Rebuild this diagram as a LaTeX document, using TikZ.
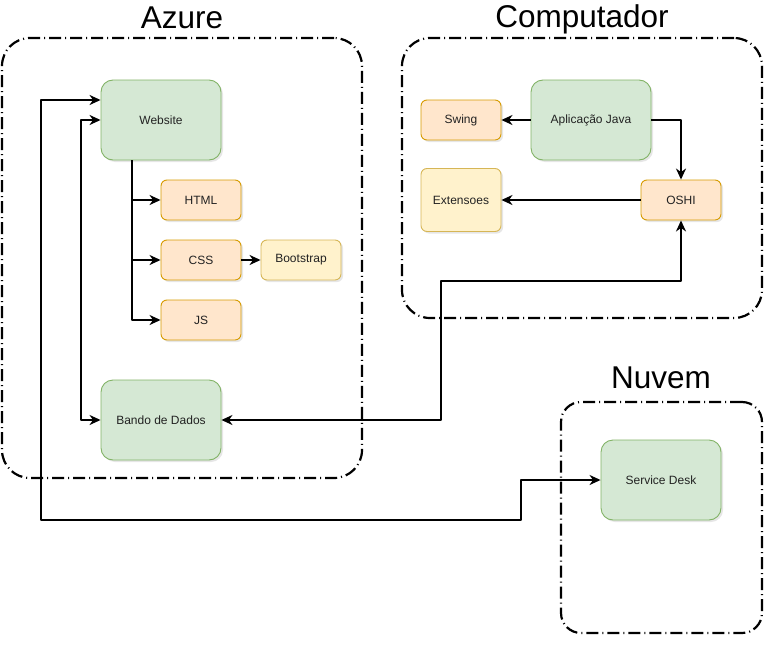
\documentclass[tikz,border=0pt]{standalone}
\usepackage{fontspec}
\setmainfont{Liberation Sans}
\usetikzlibrary{arrows.meta,shadows}
\definecolor{verdeF}{HTML}{D5E8D4}
\definecolor{verdeB}{HTML}{82B366}
\definecolor{laranjaF}{HTML}{FFE6CC}
\definecolor{laranjaB}{HTML}{D79B00}
\definecolor{amareloF}{HTML}{FFF2CC}
\definecolor{amareloB}{HTML}{D6B656}
\definecolor{texto}{HTML}{222222}
\begin{document}
\begin{tikzpicture}[x=1pt,y=-1pt,>={Stealth[length=11pt,width=10pt,inset=3.5pt]},line join=round,
	font=\fontsize{12}{14}\selectfont,
	caixa/.style={draw,line width=0.9pt,inner sep=0pt,text=texto,rounded corners=6pt,
		drop shadow={shadow xshift=2pt,shadow yshift=-2pt,opacity=0.2,fill=gray}},
	verde/.style={caixa,fill=verdeF,draw=verdeB,minimum width=120pt,minimum height=80pt,rounded corners=12pt},
	laranja/.style={caixa,fill=laranjaF,draw=laranjaB,minimum width=80pt,minimum height=40pt},
	amarelo/.style={caixa,fill=amareloF,draw=amareloB,minimum width=80pt,minimum height=40pt},
	grupo/.style={draw,line width=2.2pt,dash pattern=on 12pt off 4pt on 1pt off 4pt,rounded corners=28pt,inner sep=0pt},
	titulo/.style={font=\fontsize{31.5}{34}\selectfont,anchor=base},
	seta/.style={->,line width=2.3pt}]
	\useasboundingbox (0,0) rectangle (774,645);
	% grupos
	\node[grupo,minimum width=360pt,minimum height=440pt] (azure) at (182,258) {};
	\node[grupo,minimum width=360pt,minimum height=280pt] (comp) at (582,178) {};
	\node[grupo,minimum width=201pt,minimum height=231pt,rounded corners=20pt] (nuvem) at (661.5,517.5) {};
	\node[titulo] (tAzure) at (182,28) {Azure};
	\node[titulo] (tComp) at (582,27.5) {Computador};
	\node[titulo] (tNuvem) at (661,388) {Nuvem};

	% caixas
	\node[verde] (site) at (161,120) {Website};
	\node[laranja] (html) at (201,200) {HTML};
	\node[laranja] (css) at (201,260) {CSS};
	\node[amarelo] (boot) at (301,260) {Bootstrap};
	\node[laranja] (js) at (201,320) {JS};
	\node[verde] (banco) at (161,420) {Bando de Dados};
	\node[laranja] (swing) at (461,120) {Swing};
	\node[verde] (app) at (591,120) {Aplicação Java};
	\node[amarelo,minimum height=63pt] (ext) at (461,200) {Extensoes};
	\node[laranja] (oshi) at (681,200) {OSHI};
	\node[verde] (desk) at (661,480) {Service Desk};

	% ligacoes
	\draw[seta] ([xshift=-29pt]site.south) |- (html);
	\draw[seta] ([xshift=-29pt]site.south) |- (css);
	\draw[seta] ([xshift=-29pt]site.south) |- (js);
	\draw[seta] (css) -- (boot);
	\draw[seta] (app) -- (swing);
	\draw[seta] (app) -| (oshi);
	\draw[seta] (oshi) -- (ext);
	\draw[seta,<->] (site.west) -- (81,120) |- (banco.west);
	\draw[seta,<->] (banco.east) -- (441,420) |- (681,281) -- (oshi.south);
	\draw[seta,<->] ([yshift=20pt]site.west) -- (41,100) -- (41,520) -- (521,520) -- (521,480) -- (desk.west);
\end{tikzpicture}
\end{document}
